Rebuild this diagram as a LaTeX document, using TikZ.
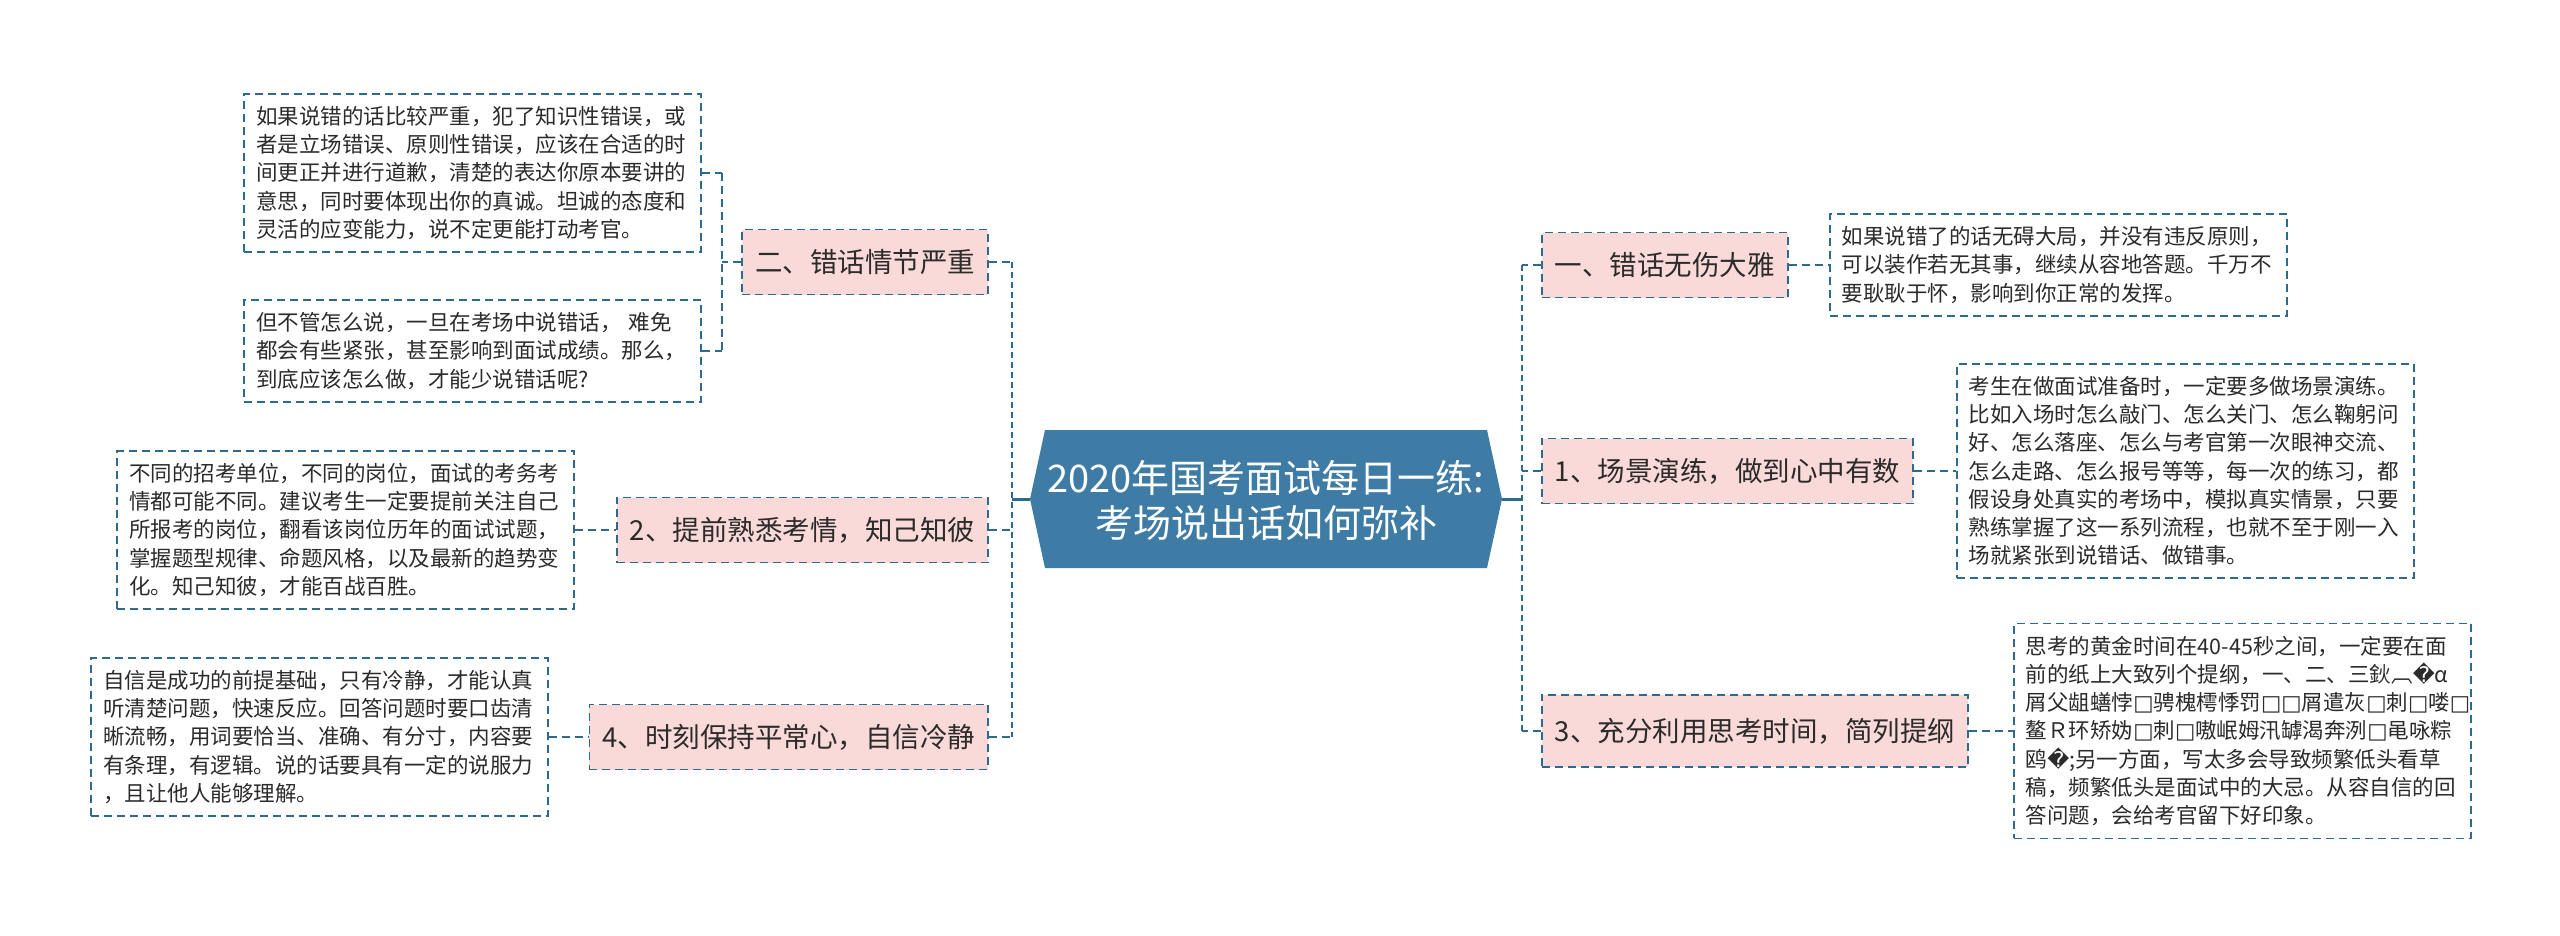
\documentclass[tikz,border=0pt]{standalone}
\usepackage{fontspec}
\setmainfont{Noto Sans CJK SC}
\newfontfamily\dejavu{DejaVu Sans}
\definecolor{dashc}{HTML}{2E6A8E}
\definecolor{titlec}{HTML}{3F7CA5}
\definecolor{pinkc}{HTML}{FADAD8}
\definecolor{txtc}{HTML}{2B2B2B}
\newcommand\tfb{{\dejavu □}}
\newcommand\rch{{\dejavu �}}
\tikzset{
  leaf/.style={draw=dashc, line width=1.6pt, dash pattern=on 8pt off 5pt, fill=white, text=txtc,
    font=\fontsize{21.5}{28.2}\selectfont, align=left, text width=433pt, inner xsep=12pt, inner ysep=12.5pt},
  branch/.style={draw=dashc, line width=1.6pt, dash pattern=on 8pt off 5pt, fill=pinkc, text=txtc,
    font=\fontsize{27.5}{33}\selectfont, inner xsep=13pt, minimum height=65pt},
  titletext/.style={text=white, font=\fontsize{38}{45}\selectfont, align=center, inner sep=0pt},
  spine/.style={draw=dashc, line width=2.6pt, dash pattern=on 6pt off 4pt},
  link/.style={draw=dashc, line width=1.8pt, dash pattern=on 8pt off 5pt},
  solidlink/.style={draw=dashc, line width=3pt},
}
\begin{document}
\begin{tikzpicture}[x=1pt,y=-1pt]
\useasboundingbox (0,0) rectangle (2560,935);
\fill[white] (0,0) rectangle (2560,935);

% central topic
\coordinate (tw) at (1030,499);
\coordinate (te) at (1502,499);
\fill[titlec] (tw) -- (1045,430) -- (1487,430) -- (te) -- (1487,568) -- (1045,568) -- cycle;
\node[titletext] (title) at (1266,500) {2020年国考面试每日一练:\\考场说出话如何弥补};

% left branches
\node[branch, anchor=east] (bl1) at (989,262) {二、错话情节严重};
\node[branch, anchor=east] (bl2) at (989,530) {2、提前熟悉考情，知己知彼};
\node[branch, anchor=east] (bl3) at (989,737) {4、时刻保持平常心，自信冷静};

% right branches
\node[branch, anchor=west] (br1) at (1541,265) {一、错话无伤大雅};
\node[branch, anchor=west] (br2) at (1541,471) {1、场景演练，做到心中有数};
\node[branch, anchor=west, minimum height=72pt] (br3) at (1541,731) {3、充分利用思考时间，简列提纲};

% left leaves
\node[leaf, anchor=east] (la) at (702,173) {如果说错的话比较严重，犯了知识性错误，或\\
者是立场错误、原则性错误，应该在合适的时\\
间更正并进行道歉，清楚的表达你原本要讲的\\
意思，同时要体现出你的真诚。坦诚的态度和\\
灵活的应变能力，说不定更能打动考官。};
\node[leaf, anchor=east] (lb) at (702,351) {但不管怎么说，一旦在考场中说错话， 难免\\
都会有些紧张，甚至影响到面试成绩。那么，\\
到底应该怎么做，才能少说错话呢?};
\node[leaf, anchor=east] (lc) at (575,530) {不同的招考单位，不同的岗位，面试的考务考\\
情都可能不同。建议考生一定要提前关注自己\\
所报考的岗位，翻看该岗位历年的面试试题，\\
掌握题型规律、命题风格，以及最新的趋势变\\
化。知己知彼，才能百战百胜。};
\node[leaf, anchor=east] (ld) at (549,737) {自信是成功的前提基础，只有冷静，才能认真\\
听清楚问题，快速反应。回答问题时要口齿清\\
晰流畅，用词要恰当、准确、有分寸，内容要\\
有条理，有逻辑。说的话要具有一定的说服力\\
，且让他人能够理解。};

% right leaves
\node[leaf, anchor=west] (le) at (1829,265) {如果说错了的话无碍大局，并没有违反原则，\\
可以装作若无其事，继续从容地答题。千万不\\
要耿耿于怀，影响到你正常的发挥。};
\node[leaf, anchor=west] (lf) at (1956,471) {考生在做面试准备时，一定要多做场景演练。\\
比如入场时怎么敲门、怎么关门、怎么鞠躬问\\
好、怎么落座、怎么与考官第一次眼神交流、\\
怎么走路、怎么报号等等，每一次的练习，都\\
假设身处真实的考场中，模拟真实情景，只要\\
熟练掌握了这一系列流程，也就不至于刚一入\\
场就紧张到说错话、做错事。};
\node[leaf, anchor=west] (lg) at (2013,731) {思考的黄金时间在40-45秒之间，一定要在面\\
前的纸上大致列个提纲，一、二、三鈥︹\rch α\\
屑父龃蟮悖\tfb 骋槐樗悸罚\tfb\tfb 屑遣灰\tfb 刺\tfb 喽\tfb\\
鳌Ｒ环矫妫\tfb 刺\tfb 嗷岷姆汛罅渴奔洌\tfb 黾咏粽\\
鸥\rch;另一方面，写太多会导致频繁低头看草\\
稿，频繁低头是面试中的大忌。从容自信的回\\
答问题，会给考官留下好印象。};

% spines
\coordinate (ls) at (1012,499);
\coordinate (rs) at (1522,499);
\draw[solidlink] (tw) -- (ls);
\draw[solidlink] (te) -- (rs);
\draw[spine] (ls |- bl1.east) -- (ls |- bl3.east);
\draw[spine] (rs |- br1.west) -- (rs |- br3.west);
\draw[link] (bl1.east) -- (ls |- bl1.east);
\draw[link] (bl2.east) -- (ls |- bl2.east);
\draw[link] (bl3.east) -- (ls |- bl3.east);
\draw[link] (br1.west) -- (rs |- br1.west);
\draw[link] (br2.west) -- (rs |- br2.west);
\draw[link] (br3.west) -- (rs |- br3.west);

% leaf connectors
\coordinate (bk) at (722,262);
\draw[link] (bl1.west) -- (bk |- bl1.west);
\draw[link] (bk |- la.east) -- (bk |- lb.east);
\draw[link] (la.east) -- (bk |- la.east);
\draw[link] (lb.east) -- (bk |- lb.east);
\draw[link] (lc.east) -- (bl2.west);
\draw[link] (ld.east) -- (bl3.west);
\draw[link] (br1.east) -- (le.west);
\draw[link] (br2.east) -- (lf.west);
\draw[link] (br3.east) -- (lg.west);
\end{tikzpicture}
\end{document}
